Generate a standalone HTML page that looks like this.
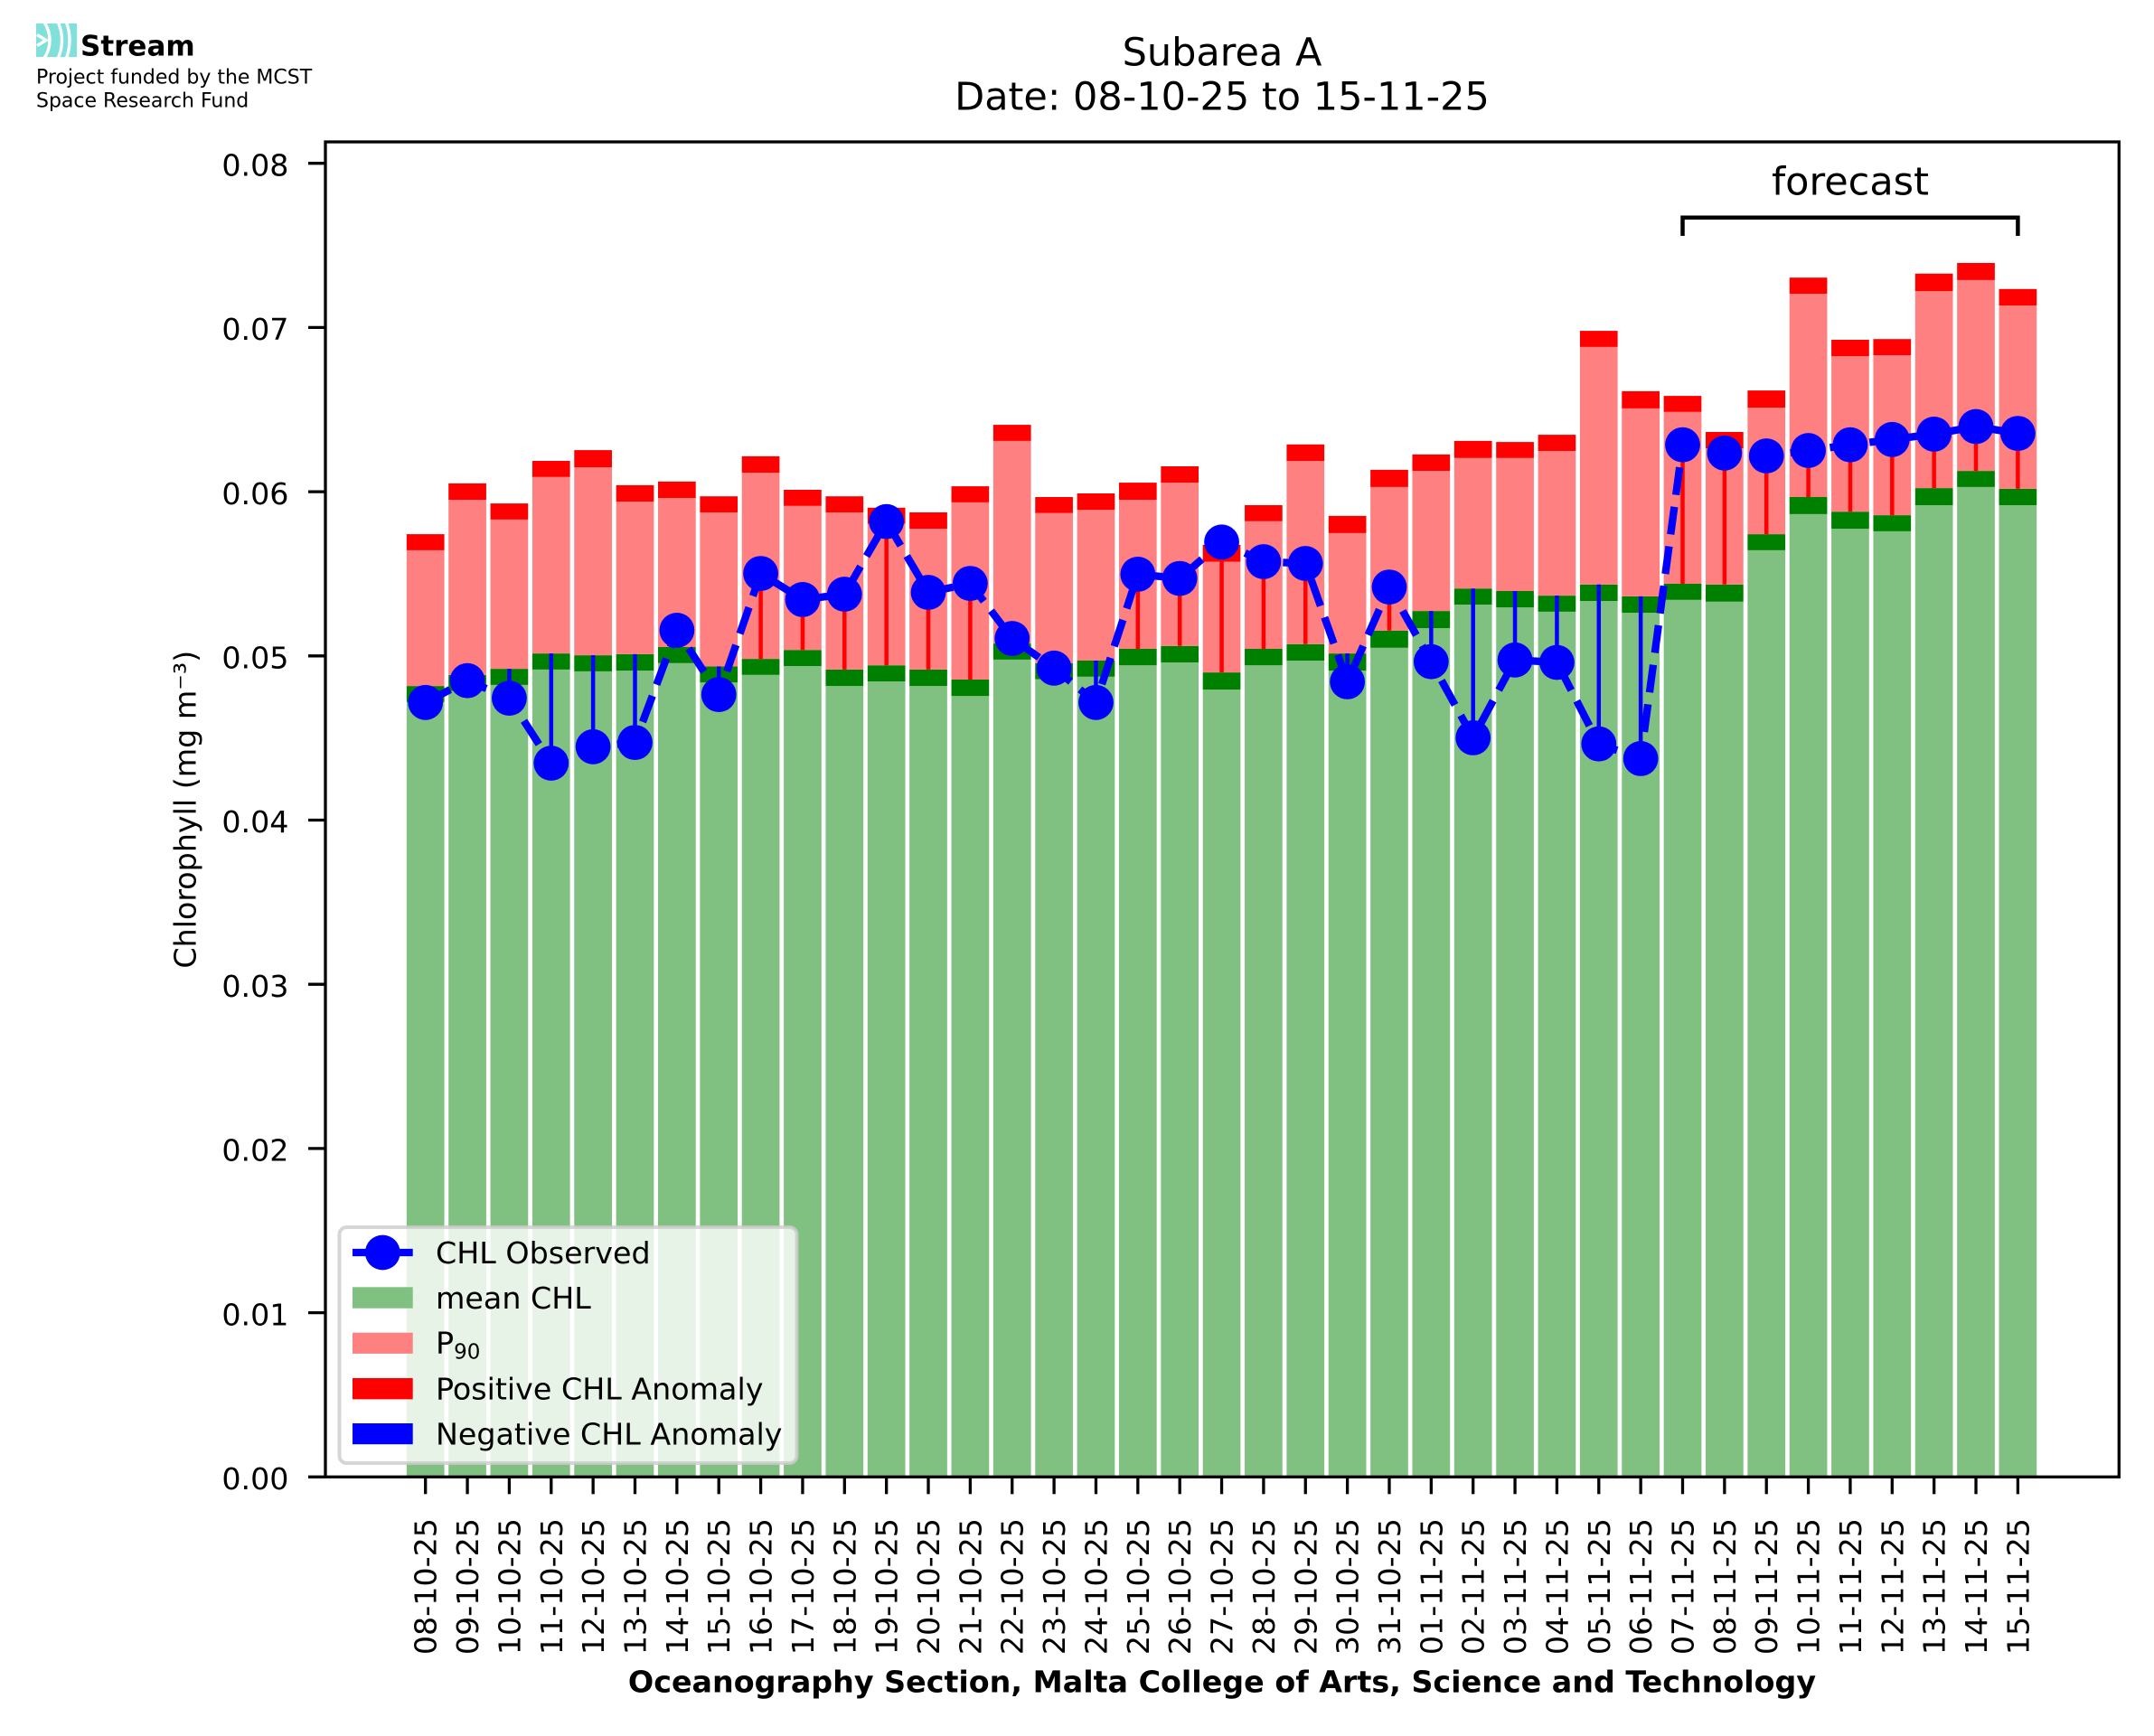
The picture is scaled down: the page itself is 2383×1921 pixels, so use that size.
<!DOCTYPE html>
<html><head><meta charset="utf-8"><style>
html,body{margin:0;padding:0;background:#fff;}
body{width:2383px;height:1921px;overflow:hidden;}
svg{display:block;font-family:"DejaVu Sans","Liberation Sans",sans-serif;}
.g{fill:#80c080}.d{fill:#008000}.p{fill:#ff8080}.r{fill:#ff0000}
.vr{stroke:#ff0000;stroke-width:4.5}.vb{stroke:#0000ff;stroke-width:4.5}
.tk{font-size:33.3px;fill:#000}
</style></head><body>
<svg width="2383" height="1921" viewBox="0 0 2383 1921" xmlns="http://www.w3.org/2000/svg">
<rect x="0" y="0" width="2383" height="1921" fill="#fff"/>

<!-- logo -->
<defs><clipPath id="lc"><rect x="40" y="26" width="45" height="37"/></clipPath></defs>
<g clip-path="url(#lc)">
<rect x="40" y="26" width="45" height="37" fill="#80e0da"/>
<circle cx="20" cy="44.5" r="35" fill="none" stroke="#fff" stroke-width="3.4"/>
<circle cx="20" cy="44.5" r="48.5" fill="none" stroke="#fff" stroke-width="3.4"/>
<circle cx="20" cy="44.5" r="57" fill="none" stroke="#fff" stroke-width="3.4"/>
<polyline points="41,38.5 51,44.5 41,50.5" fill="none" stroke="#fff" stroke-width="3.4"/>
</g>
<text x="89" y="61.7" font-size="31" font-weight="bold" fill="#000">Stream</text>
<text x="40" y="92.7" font-size="22" fill="#000">Project funded by the MCST</text>
<text x="40" y="118.3" font-size="22" fill="#000">Space Research Fund</text>

<!-- title -->
<text x="1352" y="72.7" font-size="43" text-anchor="middle" fill="#000">Subarea A</text>
<text x="1352" y="121.7" font-size="43" text-anchor="middle" fill="#000">Date: 08-10-25 to 15-11-25</text>

<!-- bars -->
<g transform="translate(470.70,0)"><rect class="g" x="-20.85" y="776.9" width="41.7" height="857.4"/><rect class="d" x="-20.85" y="759.1" width="41.7" height="17.8"/><rect class="p" x="-20.85" y="608.9" width="41.7" height="150.2"/><rect class="r" x="-20.85" y="591.1" width="41.7" height="17.8"/></g>
<g transform="translate(517.06,0)"><rect class="g" x="-20.85" y="764.6" width="41.7" height="869.7"/><rect class="d" x="-20.85" y="746.9" width="41.7" height="17.7"/><rect class="p" x="-20.85" y="553.1" width="41.7" height="193.8"/><rect class="r" x="-20.85" y="534.9" width="41.7" height="18.2"/></g>
<g transform="translate(563.42,0)"><rect class="g" x="-20.85" y="757.9" width="41.7" height="876.4"/><rect class="d" x="-20.85" y="740.1" width="41.7" height="17.8"/><rect class="p" x="-20.85" y="574.9" width="41.7" height="165.2"/><rect class="r" x="-20.85" y="557.1" width="41.7" height="17.8"/></g>
<g transform="translate(609.78,0)"><rect class="g" x="-20.85" y="740.9" width="41.7" height="893.4"/><rect class="d" x="-20.85" y="723.1" width="41.7" height="17.8"/><rect class="p" x="-20.85" y="527.8" width="41.7" height="195.3"/><rect class="r" x="-20.85" y="510.0" width="41.7" height="17.8"/></g>
<g transform="translate(656.14,0)"><rect class="g" x="-20.85" y="742.9" width="41.7" height="891.4"/><rect class="d" x="-20.85" y="725.1" width="41.7" height="17.8"/><rect class="p" x="-20.85" y="517.1" width="41.7" height="208.0"/><rect class="r" x="-20.85" y="498.1" width="41.7" height="19.0"/></g>
<g transform="translate(702.50,0)"><rect class="g" x="-20.85" y="742.1" width="41.7" height="892.2"/><rect class="d" x="-20.85" y="723.9" width="41.7" height="18.2"/><rect class="p" x="-20.85" y="555.1" width="41.7" height="168.8"/><rect class="r" x="-20.85" y="536.9" width="41.7" height="18.2"/></g>
<g transform="translate(748.86,0)"><rect class="g" x="-20.85" y="733.8" width="41.7" height="900.5"/><rect class="d" x="-20.85" y="716.0" width="41.7" height="17.8"/><rect class="p" x="-20.85" y="551.1" width="41.7" height="164.9"/><rect class="r" x="-20.85" y="532.9" width="41.7" height="18.2"/></g>
<g transform="translate(795.22,0)"><rect class="g" x="-20.85" y="755.2" width="41.7" height="879.1"/><rect class="d" x="-20.85" y="737.4" width="41.7" height="17.8"/><rect class="p" x="-20.85" y="567.0" width="41.7" height="170.4"/><rect class="r" x="-20.85" y="549.2" width="41.7" height="17.8"/></g>
<g transform="translate(841.58,0)"><rect class="g" x="-20.85" y="746.8" width="41.7" height="887.5"/><rect class="d" x="-20.85" y="729.1" width="41.7" height="17.7"/><rect class="p" x="-20.85" y="523.1" width="41.7" height="206.0"/><rect class="r" x="-20.85" y="504.9" width="41.7" height="18.2"/></g>
<g transform="translate(887.94,0)"><rect class="g" x="-20.85" y="737.0" width="41.7" height="897.3"/><rect class="d" x="-20.85" y="719.2" width="41.7" height="17.8"/><rect class="p" x="-20.85" y="559.8" width="41.7" height="159.4"/><rect class="r" x="-20.85" y="542.0" width="41.7" height="17.8"/></g>
<g transform="translate(934.30,0)"><rect class="g" x="-20.85" y="759.1" width="41.7" height="875.2"/><rect class="d" x="-20.85" y="740.9" width="41.7" height="18.2"/><rect class="p" x="-20.85" y="567.0" width="41.7" height="173.9"/><rect class="r" x="-20.85" y="549.2" width="41.7" height="17.8"/></g>
<g transform="translate(980.66,0)"><rect class="g" x="-20.85" y="754.0" width="41.7" height="880.3"/><rect class="d" x="-20.85" y="736.2" width="41.7" height="17.8"/><rect class="p" x="-20.85" y="579.6" width="41.7" height="156.6"/><rect class="r" x="-20.85" y="561.8" width="41.7" height="17.8"/></g>
<g transform="translate(1027.02,0)"><rect class="g" x="-20.85" y="759.1" width="41.7" height="875.2"/><rect class="d" x="-20.85" y="740.9" width="41.7" height="18.2"/><rect class="p" x="-20.85" y="585.1" width="41.7" height="155.8"/><rect class="r" x="-20.85" y="567.0" width="41.7" height="18.1"/></g>
<g transform="translate(1073.38,0)"><rect class="g" x="-20.85" y="770.2" width="41.7" height="864.1"/><rect class="d" x="-20.85" y="752.0" width="41.7" height="18.2"/><rect class="p" x="-20.85" y="555.9" width="41.7" height="196.1"/><rect class="r" x="-20.85" y="538.1" width="41.7" height="17.8"/></g>
<g transform="translate(1119.74,0)"><rect class="g" x="-20.85" y="729.9" width="41.7" height="904.4"/><rect class="d" x="-20.85" y="712.1" width="41.7" height="17.8"/><rect class="p" x="-20.85" y="487.9" width="41.7" height="224.2"/><rect class="r" x="-20.85" y="470.1" width="41.7" height="17.8"/></g>
<g transform="translate(1166.10,0)"><rect class="g" x="-20.85" y="751.6" width="41.7" height="882.7"/><rect class="d" x="-20.85" y="733.8" width="41.7" height="17.8"/><rect class="p" x="-20.85" y="567.7" width="41.7" height="166.1"/><rect class="r" x="-20.85" y="550.0" width="41.7" height="17.7"/></g>
<g transform="translate(1212.46,0)"><rect class="g" x="-20.85" y="748.8" width="41.7" height="885.5"/><rect class="d" x="-20.85" y="731.0" width="41.7" height="17.8"/><rect class="p" x="-20.85" y="564.2" width="41.7" height="166.8"/><rect class="r" x="-20.85" y="546.0" width="41.7" height="18.2"/></g>
<g transform="translate(1258.82,0)"><rect class="g" x="-20.85" y="736.2" width="41.7" height="898.1"/><rect class="d" x="-20.85" y="718.0" width="41.7" height="18.2"/><rect class="p" x="-20.85" y="553.1" width="41.7" height="164.9"/><rect class="r" x="-20.85" y="534.1" width="41.7" height="19.0"/></g>
<g transform="translate(1305.18,0)"><rect class="g" x="-20.85" y="733.0" width="41.7" height="901.3"/><rect class="d" x="-20.85" y="714.8" width="41.7" height="18.2"/><rect class="p" x="-20.85" y="534.1" width="41.7" height="180.7"/><rect class="r" x="-20.85" y="516.0" width="41.7" height="18.1"/></g>
<g transform="translate(1351.54,0)"><rect class="g" x="-20.85" y="763.1" width="41.7" height="871.2"/><rect class="d" x="-20.85" y="744.1" width="41.7" height="19.0"/><rect class="p" x="-20.85" y="621.5" width="41.7" height="122.6"/><rect class="r" x="-20.85" y="602.9" width="41.7" height="18.6"/></g>
<g transform="translate(1397.90,0)"><rect class="g" x="-20.85" y="736.2" width="41.7" height="898.1"/><rect class="d" x="-20.85" y="718.0" width="41.7" height="18.2"/><rect class="p" x="-20.85" y="576.8" width="41.7" height="141.2"/><rect class="r" x="-20.85" y="559.0" width="41.7" height="17.8"/></g>
<g transform="translate(1444.26,0)"><rect class="g" x="-20.85" y="731.0" width="41.7" height="903.3"/><rect class="d" x="-20.85" y="712.8" width="41.7" height="18.2"/><rect class="p" x="-20.85" y="510.0" width="41.7" height="202.8"/><rect class="r" x="-20.85" y="491.8" width="41.7" height="18.2"/></g>
<g transform="translate(1490.62,0)"><rect class="g" x="-20.85" y="742.1" width="41.7" height="892.2"/><rect class="d" x="-20.85" y="723.1" width="41.7" height="19.0"/><rect class="p" x="-20.85" y="589.9" width="41.7" height="133.2"/><rect class="r" x="-20.85" y="570.9" width="41.7" height="19.0"/></g>
<g transform="translate(1536.98,0)"><rect class="g" x="-20.85" y="716.8" width="41.7" height="917.5"/><rect class="d" x="-20.85" y="697.8" width="41.7" height="19.0"/><rect class="p" x="-20.85" y="538.9" width="41.7" height="158.9"/><rect class="r" x="-20.85" y="519.9" width="41.7" height="19.0"/></g>
<g transform="translate(1583.34,0)"><rect class="g" x="-20.85" y="695.1" width="41.7" height="939.2"/><rect class="d" x="-20.85" y="676.1" width="41.7" height="19.0"/><rect class="p" x="-20.85" y="521.1" width="41.7" height="155.0"/><rect class="r" x="-20.85" y="502.9" width="41.7" height="18.2"/></g>
<g transform="translate(1629.70,0)"><rect class="g" x="-20.85" y="669.0" width="41.7" height="965.3"/><rect class="d" x="-20.85" y="651.2" width="41.7" height="17.8"/><rect class="p" x="-20.85" y="506.8" width="41.7" height="144.4"/><rect class="r" x="-20.85" y="487.9" width="41.7" height="18.9"/></g>
<g transform="translate(1676.06,0)"><rect class="g" x="-20.85" y="672.1" width="41.7" height="962.2"/><rect class="d" x="-20.85" y="654.0" width="41.7" height="18.1"/><rect class="p" x="-20.85" y="506.8" width="41.7" height="147.2"/><rect class="r" x="-20.85" y="489.1" width="41.7" height="17.7"/></g>
<g transform="translate(1722.42,0)"><rect class="g" x="-20.85" y="676.9" width="41.7" height="957.4"/><rect class="d" x="-20.85" y="659.1" width="41.7" height="17.8"/><rect class="p" x="-20.85" y="499.0" width="41.7" height="160.1"/><rect class="r" x="-20.85" y="481.1" width="41.7" height="17.9"/></g>
<g transform="translate(1768.78,0)"><rect class="g" x="-20.85" y="665.0" width="41.7" height="969.3"/><rect class="d" x="-20.85" y="646.8" width="41.7" height="18.2"/><rect class="p" x="-20.85" y="383.9" width="41.7" height="262.9"/><rect class="r" x="-20.85" y="366.1" width="41.7" height="17.8"/></g>
<g transform="translate(1815.14,0)"><rect class="g" x="-20.85" y="678.1" width="41.7" height="956.2"/><rect class="d" x="-20.85" y="659.9" width="41.7" height="18.2"/><rect class="p" x="-20.85" y="451.9" width="41.7" height="208.0"/><rect class="r" x="-20.85" y="432.9" width="41.7" height="19.0"/></g>
<g transform="translate(1861.50,0)"><rect class="g" x="-20.85" y="663.8" width="41.7" height="970.5"/><rect class="d" x="-20.85" y="646.0" width="41.7" height="17.8"/><rect class="p" x="-20.85" y="455.8" width="41.7" height="190.2"/><rect class="r" x="-20.85" y="438.1" width="41.7" height="17.7"/></g>
<g transform="translate(1907.86,0)"><rect class="g" x="-20.85" y="665.8" width="41.7" height="968.5"/><rect class="d" x="-20.85" y="646.8" width="41.7" height="19.0"/><rect class="p" x="-20.85" y="496.2" width="41.7" height="150.6"/><rect class="r" x="-20.85" y="478.0" width="41.7" height="18.2"/></g>
<g transform="translate(1954.22,0)"><rect class="g" x="-20.85" y="608.9" width="41.7" height="1025.4"/><rect class="d" x="-20.85" y="591.1" width="41.7" height="17.8"/><rect class="p" x="-20.85" y="451.1" width="41.7" height="140.0"/><rect class="r" x="-20.85" y="432.1" width="41.7" height="19.0"/></g>
<g transform="translate(2000.58,0)"><rect class="g" x="-20.85" y="568.9" width="41.7" height="1065.4"/><rect class="d" x="-20.85" y="550.0" width="41.7" height="18.9"/><rect class="p" x="-20.85" y="325.0" width="41.7" height="225.0"/><rect class="r" x="-20.85" y="307.2" width="41.7" height="17.8"/></g>
<g transform="translate(2046.94,0)"><rect class="g" x="-20.85" y="585.1" width="41.7" height="1049.2"/><rect class="d" x="-20.85" y="566.2" width="41.7" height="18.9"/><rect class="p" x="-20.85" y="394.2" width="41.7" height="172.0"/><rect class="r" x="-20.85" y="376.0" width="41.7" height="18.2"/></g>
<g transform="translate(2093.30,0)"><rect class="g" x="-20.85" y="587.9" width="41.7" height="1046.4"/><rect class="d" x="-20.85" y="570.1" width="41.7" height="17.8"/><rect class="p" x="-20.85" y="393.0" width="41.7" height="177.1"/><rect class="r" x="-20.85" y="375.2" width="41.7" height="17.8"/></g>
<g transform="translate(2139.66,0)"><rect class="g" x="-20.85" y="559.0" width="41.7" height="1075.3"/><rect class="d" x="-20.85" y="540.1" width="41.7" height="18.9"/><rect class="p" x="-20.85" y="322.2" width="41.7" height="217.9"/><rect class="r" x="-20.85" y="302.8" width="41.7" height="19.4"/></g>
<g transform="translate(2186.02,0)"><rect class="g" x="-20.85" y="538.9" width="41.7" height="1095.4"/><rect class="d" x="-20.85" y="521.1" width="41.7" height="17.8"/><rect class="p" x="-20.85" y="309.9" width="41.7" height="211.2"/><rect class="r" x="-20.85" y="291.0" width="41.7" height="18.9"/></g>
<g transform="translate(2232.38,0)"><rect class="g" x="-20.85" y="559.0" width="41.7" height="1075.3"/><rect class="d" x="-20.85" y="540.9" width="41.7" height="18.1"/><rect class="p" x="-20.85" y="338.0" width="41.7" height="202.9"/><rect class="r" x="-20.85" y="319.8" width="41.7" height="18.2"/></g>

<!-- anomaly lines -->
<line class="vb" x1="470.70" y1="777.3" x2="470.70" y2="759.1"/>
<line class="vb" x1="517.06" y1="753.2" x2="517.06" y2="746.9"/>
<line class="vb" x1="563.42" y1="772.6" x2="563.42" y2="740.1"/>
<line class="vb" x1="609.78" y1="844.5" x2="609.78" y2="723.1"/>
<line class="vb" x1="656.14" y1="826.3" x2="656.14" y2="725.1"/>
<line class="vb" x1="702.50" y1="821.6" x2="702.50" y2="723.9"/>
<line class="vr" x1="748.86" y1="697.4" x2="748.86" y2="716.0"/>
<line class="vb" x1="795.22" y1="768.6" x2="795.22" y2="737.4"/>
<line class="vr" x1="841.58" y1="634.6" x2="841.58" y2="729.1"/>
<line class="vr" x1="887.94" y1="663.4" x2="887.94" y2="719.2"/>
<line class="vr" x1="934.30" y1="657.5" x2="934.30" y2="740.9"/>
<line class="vr" x1="980.66" y1="577.2" x2="980.66" y2="736.2"/>
<line class="vr" x1="1027.02" y1="655.5" x2="1027.02" y2="740.9"/>
<line class="vr" x1="1073.38" y1="645.6" x2="1073.38" y2="752.0"/>
<line class="vr" x1="1119.74" y1="706.5" x2="1119.74" y2="712.1"/>
<line class="vb" x1="1166.10" y1="739.3" x2="1166.10" y2="733.8"/>
<line class="vb" x1="1212.46" y1="777.3" x2="1212.46" y2="731.0"/>
<line class="vr" x1="1258.82" y1="635.4" x2="1258.82" y2="718.0"/>
<line class="vr" x1="1305.18" y1="640.1" x2="1305.18" y2="714.8"/>
<line class="vr" x1="1351.54" y1="599.8" x2="1351.54" y2="744.1"/>
<line class="vr" x1="1397.90" y1="621.5" x2="1397.90" y2="718.0"/>
<line class="vr" x1="1444.26" y1="623.5" x2="1444.26" y2="712.8"/>
<line class="vb" x1="1490.62" y1="754.4" x2="1490.62" y2="723.1"/>
<line class="vr" x1="1536.98" y1="649.6" x2="1536.98" y2="697.8"/>
<line class="vb" x1="1583.34" y1="732.2" x2="1583.34" y2="676.1"/>
<line class="vb" x1="1629.70" y1="816.4" x2="1629.70" y2="651.2"/>
<line class="vb" x1="1676.06" y1="730.3" x2="1676.06" y2="654.0"/>
<line class="vb" x1="1722.42" y1="733.0" x2="1722.42" y2="659.1"/>
<line class="vb" x1="1768.78" y1="823.2" x2="1768.78" y2="646.8"/>
<line class="vb" x1="1815.14" y1="839.4" x2="1815.14" y2="659.9"/>
<line class="vr" x1="1861.50" y1="492.2" x2="1861.50" y2="646.0"/>
<line class="vr" x1="1907.86" y1="501.3" x2="1907.86" y2="646.8"/>
<line class="vr" x1="1954.22" y1="504.5" x2="1954.22" y2="591.1"/>
<line class="vr" x1="2000.58" y1="498.5" x2="2000.58" y2="550.0"/>
<line class="vr" x1="2046.94" y1="492.2" x2="2046.94" y2="566.2"/>
<line class="vr" x1="2093.30" y1="486.3" x2="2093.30" y2="570.1"/>
<line class="vr" x1="2139.66" y1="480.4" x2="2139.66" y2="540.1"/>
<line class="vr" x1="2186.02" y1="472.0" x2="2186.02" y2="521.1"/>
<line class="vr" x1="2232.38" y1="479.6" x2="2232.38" y2="540.9"/>

<!-- observed dashed line -->
<polyline fill="none" stroke="#0000ff" stroke-width="8.3" stroke-dasharray="30.8 13.3" stroke-linejoin="round" stroke-linecap="butt" points="470.70,777.3 517.06,753.2 563.42,772.6 609.78,844.5 656.14,826.3 702.50,821.6 748.86,697.4 795.22,768.6 841.58,634.6 887.94,663.4 934.30,657.5 980.66,577.2 1027.02,655.5 1073.38,645.6 1119.74,706.5 1166.10,739.3 1212.46,777.3 1258.82,635.4 1305.18,640.1 1351.54,599.8 1397.90,621.5 1444.26,623.5 1490.62,754.4 1536.98,649.6 1583.34,732.2 1629.70,816.4 1676.06,730.3 1722.42,733.0 1768.78,823.2 1815.14,839.4 1861.50,492.2 1907.86,501.3 1954.22,504.5 2000.58,498.5 2046.94,492.2 2093.30,486.3 2139.66,480.4 2186.02,472.0 2232.38,479.6"/>
<g fill="#0000ff">
<circle cx="470.70" cy="777.3" r="19.4"/><circle cx="517.06" cy="753.2" r="19.4"/><circle cx="563.42" cy="772.6" r="19.4"/><circle cx="609.78" cy="844.5" r="19.4"/><circle cx="656.14" cy="826.3" r="19.4"/><circle cx="702.50" cy="821.6" r="19.4"/><circle cx="748.86" cy="697.4" r="19.4"/><circle cx="795.22" cy="768.6" r="19.4"/><circle cx="841.58" cy="634.6" r="19.4"/><circle cx="887.94" cy="663.4" r="19.4"/><circle cx="934.30" cy="657.5" r="19.4"/><circle cx="980.66" cy="577.2" r="19.4"/><circle cx="1027.02" cy="655.5" r="19.4"/><circle cx="1073.38" cy="645.6" r="19.4"/><circle cx="1119.74" cy="706.5" r="19.4"/><circle cx="1166.10" cy="739.3" r="19.4"/><circle cx="1212.46" cy="777.3" r="19.4"/><circle cx="1258.82" cy="635.4" r="19.4"/><circle cx="1305.18" cy="640.1" r="19.4"/><circle cx="1351.54" cy="599.8" r="19.4"/><circle cx="1397.90" cy="621.5" r="19.4"/><circle cx="1444.26" cy="623.5" r="19.4"/><circle cx="1490.62" cy="754.4" r="19.4"/><circle cx="1536.98" cy="649.6" r="19.4"/><circle cx="1583.34" cy="732.2" r="19.4"/><circle cx="1629.70" cy="816.4" r="19.4"/><circle cx="1676.06" cy="730.3" r="19.4"/><circle cx="1722.42" cy="733.0" r="19.4"/><circle cx="1768.78" cy="823.2" r="19.4"/><circle cx="1815.14" cy="839.4" r="19.4"/><circle cx="1861.50" cy="492.2" r="19.4"/><circle cx="1907.86" cy="501.3" r="19.4"/><circle cx="1954.22" cy="504.5" r="19.4"/><circle cx="2000.58" cy="498.5" r="19.4"/><circle cx="2046.94" cy="492.2" r="19.4"/><circle cx="2093.30" cy="486.3" r="19.4"/><circle cx="2139.66" cy="480.4" r="19.4"/><circle cx="2186.02" cy="472.0" r="19.4"/><circle cx="2232.38" cy="479.6" r="19.4"/>
</g>

<!-- forecast bracket -->
<polyline points="1861.5,261 1861.5,240.7 2232.4,240.7 2232.4,261" fill="none" stroke="#000" stroke-width="4.5"/>
<text x="2047" y="215.5" font-size="43" text-anchor="middle" fill="#000">forecast</text>

<!-- spines -->
<rect x="360" y="157" width="1984.3" height="1477.3" fill="none" stroke="#000" stroke-width="3.3"/>

<!-- y ticks -->
<g stroke="#000" stroke-width="3.3">
<line x1="341" y1="1634.3" x2="360" y2="1634.3"/><line x1="341" y1="1452.6" x2="360" y2="1452.6"/><line x1="341" y1="1270.9" x2="360" y2="1270.9"/><line x1="341" y1="1089.2" x2="360" y2="1089.2"/><line x1="341" y1="907.5" x2="360" y2="907.5"/><line x1="341" y1="725.8" x2="360" y2="725.8"/><line x1="341" y1="544.1" x2="360" y2="544.1"/><line x1="341" y1="362.4" x2="360" y2="362.4"/><line x1="341" y1="180.7" x2="360" y2="180.7"/>
</g>
<g class="tk" text-anchor="end">
<text x="319.5" y="1648">0.00</text><text x="319.5" y="1466.3">0.01</text><text x="319.5" y="1284.6">0.02</text><text x="319.5" y="1102.9">0.03</text><text x="319.5" y="921.2">0.04</text><text x="319.5" y="739.5">0.05</text><text x="319.5" y="557.8">0.06</text><text x="319.5" y="376.1">0.07</text><text x="319.5" y="194.4">0.08</text>
</g>

<!-- x ticks -->
<g stroke="#000" stroke-width="3.3">
<line x1="470.70" y1="1634.3" x2="470.70" y2="1653.3"/><line x1="517.06" y1="1634.3" x2="517.06" y2="1653.3"/><line x1="563.42" y1="1634.3" x2="563.42" y2="1653.3"/><line x1="609.78" y1="1634.3" x2="609.78" y2="1653.3"/><line x1="656.14" y1="1634.3" x2="656.14" y2="1653.3"/><line x1="702.50" y1="1634.3" x2="702.50" y2="1653.3"/><line x1="748.86" y1="1634.3" x2="748.86" y2="1653.3"/><line x1="795.22" y1="1634.3" x2="795.22" y2="1653.3"/><line x1="841.58" y1="1634.3" x2="841.58" y2="1653.3"/><line x1="887.94" y1="1634.3" x2="887.94" y2="1653.3"/><line x1="934.30" y1="1634.3" x2="934.30" y2="1653.3"/><line x1="980.66" y1="1634.3" x2="980.66" y2="1653.3"/><line x1="1027.02" y1="1634.3" x2="1027.02" y2="1653.3"/><line x1="1073.38" y1="1634.3" x2="1073.38" y2="1653.3"/><line x1="1119.74" y1="1634.3" x2="1119.74" y2="1653.3"/><line x1="1166.10" y1="1634.3" x2="1166.10" y2="1653.3"/><line x1="1212.46" y1="1634.3" x2="1212.46" y2="1653.3"/><line x1="1258.82" y1="1634.3" x2="1258.82" y2="1653.3"/><line x1="1305.18" y1="1634.3" x2="1305.18" y2="1653.3"/><line x1="1351.54" y1="1634.3" x2="1351.54" y2="1653.3"/><line x1="1397.90" y1="1634.3" x2="1397.90" y2="1653.3"/><line x1="1444.26" y1="1634.3" x2="1444.26" y2="1653.3"/><line x1="1490.62" y1="1634.3" x2="1490.62" y2="1653.3"/><line x1="1536.98" y1="1634.3" x2="1536.98" y2="1653.3"/><line x1="1583.34" y1="1634.3" x2="1583.34" y2="1653.3"/><line x1="1629.70" y1="1634.3" x2="1629.70" y2="1653.3"/><line x1="1676.06" y1="1634.3" x2="1676.06" y2="1653.3"/><line x1="1722.42" y1="1634.3" x2="1722.42" y2="1653.3"/><line x1="1768.78" y1="1634.3" x2="1768.78" y2="1653.3"/><line x1="1815.14" y1="1634.3" x2="1815.14" y2="1653.3"/><line x1="1861.50" y1="1634.3" x2="1861.50" y2="1653.3"/><line x1="1907.86" y1="1634.3" x2="1907.86" y2="1653.3"/><line x1="1954.22" y1="1634.3" x2="1954.22" y2="1653.3"/><line x1="2000.58" y1="1634.3" x2="2000.58" y2="1653.3"/><line x1="2046.94" y1="1634.3" x2="2046.94" y2="1653.3"/><line x1="2093.30" y1="1634.3" x2="2093.30" y2="1653.3"/><line x1="2139.66" y1="1634.3" x2="2139.66" y2="1653.3"/><line x1="2186.02" y1="1634.3" x2="2186.02" y2="1653.3"/><line x1="2232.38" y1="1634.3" x2="2232.38" y2="1653.3"/>
</g>
<g class="tk" text-anchor="end">
<text transform="translate(482.7,1680) rotate(-90)">08-10-25</text>
<text transform="translate(529.06,1680) rotate(-90)">09-10-25</text>
<text transform="translate(575.42,1680) rotate(-90)">10-10-25</text>
<text transform="translate(621.78,1680) rotate(-90)">11-10-25</text>
<text transform="translate(668.14,1680) rotate(-90)">12-10-25</text>
<text transform="translate(714.50,1680) rotate(-90)">13-10-25</text>
<text transform="translate(760.86,1680) rotate(-90)">14-10-25</text>
<text transform="translate(807.22,1680) rotate(-90)">15-10-25</text>
<text transform="translate(853.58,1680) rotate(-90)">16-10-25</text>
<text transform="translate(899.94,1680) rotate(-90)">17-10-25</text>
<text transform="translate(946.30,1680) rotate(-90)">18-10-25</text>
<text transform="translate(992.66,1680) rotate(-90)">19-10-25</text>
<text transform="translate(1039.02,1680) rotate(-90)">20-10-25</text>
<text transform="translate(1085.38,1680) rotate(-90)">21-10-25</text>
<text transform="translate(1131.74,1680) rotate(-90)">22-10-25</text>
<text transform="translate(1178.10,1680) rotate(-90)">23-10-25</text>
<text transform="translate(1224.46,1680) rotate(-90)">24-10-25</text>
<text transform="translate(1270.82,1680) rotate(-90)">25-10-25</text>
<text transform="translate(1317.18,1680) rotate(-90)">26-10-25</text>
<text transform="translate(1363.54,1680) rotate(-90)">27-10-25</text>
<text transform="translate(1409.90,1680) rotate(-90)">28-10-25</text>
<text transform="translate(1456.26,1680) rotate(-90)">29-10-25</text>
<text transform="translate(1502.62,1680) rotate(-90)">30-10-25</text>
<text transform="translate(1548.98,1680) rotate(-90)">31-10-25</text>
<text transform="translate(1595.34,1680) rotate(-90)">01-11-25</text>
<text transform="translate(1641.70,1680) rotate(-90)">02-11-25</text>
<text transform="translate(1688.06,1680) rotate(-90)">03-11-25</text>
<text transform="translate(1734.42,1680) rotate(-90)">04-11-25</text>
<text transform="translate(1780.78,1680) rotate(-90)">05-11-25</text>
<text transform="translate(1827.14,1680) rotate(-90)">06-11-25</text>
<text transform="translate(1873.50,1680) rotate(-90)">07-11-25</text>
<text transform="translate(1919.86,1680) rotate(-90)">08-11-25</text>
<text transform="translate(1966.22,1680) rotate(-90)">09-11-25</text>
<text transform="translate(2012.58,1680) rotate(-90)">10-11-25</text>
<text transform="translate(2058.94,1680) rotate(-90)">11-11-25</text>
<text transform="translate(2105.30,1680) rotate(-90)">12-11-25</text>
<text transform="translate(2151.66,1680) rotate(-90)">13-11-25</text>
<text transform="translate(2198.02,1680) rotate(-90)">14-11-25</text>
<text transform="translate(2244.38,1680) rotate(-90)">15-11-25</text>
</g>

<!-- axis labels -->
<text transform="translate(216.7,895.7) rotate(-90)" class="tk" text-anchor="middle">Chlorophyll (mg m⁻³)</text>
<text x="1352" y="1872.7" font-size="33.3" font-weight="bold" text-anchor="middle" fill="#000">Oceanography Section, Malta College of Arts, Science and Technology</text>

<!-- legend -->
<rect x="375.5" y="1358" width="506" height="261" rx="8" ry="8" fill="#fff" fill-opacity="0.8" stroke="#cccccc" stroke-opacity="0.8" stroke-width="4"/>
<line x1="390" y1="1386" x2="456.7" y2="1386" stroke="#0000ff" stroke-width="8.3"/>
<circle cx="423.3" cy="1386" r="19.4" fill="#0000ff"/>
<rect x="390" y="1424.3" width="66.7" height="23.4" fill="#80c080"/>
<rect x="390" y="1474.7" width="66.7" height="23.2" fill="#ff8080"/>
<rect x="390" y="1525" width="66.7" height="23.4" fill="#ff0000"/>
<rect x="390" y="1575" width="66.7" height="23.2" fill="#0000ff"/>
<g class="tk">
<text x="482" y="1398">CHL Observed</text>
<text x="482" y="1448">mean CHL</text>
<text x="482" y="1497.7">P<tspan font-size="23" dy="5.6">90</tspan></text>
<text x="482" y="1548.5">Positive CHL Anomaly</text>
<text x="482" y="1598.5">Negative CHL Anomaly</text>
</g>
</svg>
</body></html>
